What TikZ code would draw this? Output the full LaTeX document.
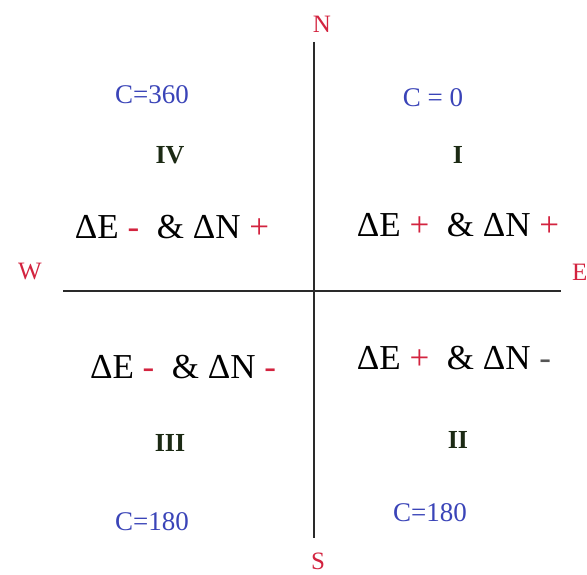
\documentclass[tikz,border=0pt]{standalone}
\usepackage{fontspec}
\setmainfont{Liberation Serif}
\usepackage{tikz}
\usetikzlibrary{positioning}
\definecolor{Compass}{HTML}{D3233F}
\definecolor{Azim}{HTML}{3A44B8}
\definecolor{Quad}{HTML}{1C2A14}
\definecolor{Axis}{HTML}{2A2A2A}
\definecolor{Sign}{HTML}{555555}
\tikzset{
  dir/.style={text=Compass, font=\fontsize{25}{28}\selectfont, inner sep=0pt},
  azim/.style={text=Azim, font=\fontsize{27}{30}\selectfont, inner sep=0pt},
  quad/.style={text=Quad, font=\bfseries\fontsize{26}{28}\selectfont, inner sep=0pt},
  delta/.style={font=\fontsize{35}{38}\selectfont, inner sep=0pt},
}
\newcommand{\pl}{\textcolor{Compass}{+}}
\newcommand{\mi}{\textcolor{Compass}{-}}
\newcommand{\mg}{\textcolor{Sign}{-}}
\begin{document}
\begin{tikzpicture}[x=1pt, y=-1pt]
  \useasboundingbox[fill=white] (0,0) rectangle (587,575);
  % axes
  \coordinate (top) at (314,42);
  \coordinate (bot) at (314,538);
  \coordinate (lft) at (63,291);
  \coordinate (rgt) at (561,291);
  \draw[Axis, line width=1.6pt] (top) -- (bot);
  \draw[Axis, line width=1.6pt] (lft) -- (rgt);
  % compass points
  \node[dir] (north) at (322,24) {N};
  \node[dir] (south) at (318,561) {S};
  \node[dir] (west) at (30,272) {W};
  \node[dir, anchor=west] (east) at (572,272) {E};
  % quadrant I
  \node[azim] (cI) at (433,98) {C = 0};
  \node[quad] (qI) at (458,155) {I};
  \node[delta] (dI) at (458,225) {ΔE \pl\ \ \& ΔN \pl};
  % quadrant II
  \node[delta] (dII) at (454,358) {ΔE \pl\ \ \& ΔN \mg};
  \node[quad] (qII) at (458,440) {II};
  \node[azim] (cII) at (430,513) {C=180};
  % quadrant III
  \node[delta] (dIII) at (183,367) {ΔE \mi\ \ \& ΔN \mi};
  \node[quad] (qIII) at (170,443) {III};
  \node[azim] (cIII) at (152,522) {C=180};
  % quadrant IV
  \node[azim] (cIV) at (152,95) {C=360};
  \node[quad] (qIV) at (170,155) {IV};
  \node[delta] (dIV) at (172,227) {ΔE \mi\ \ \& ΔN \pl};
\end{tikzpicture}
\end{document}
